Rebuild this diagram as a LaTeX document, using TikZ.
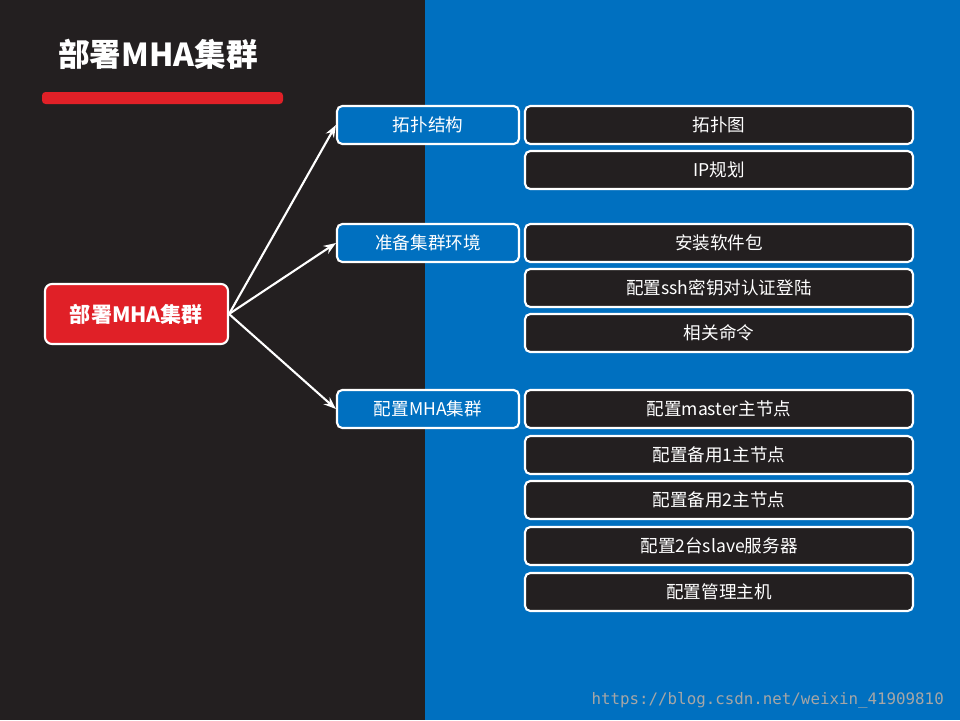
\documentclass[tikz,border=0pt]{standalone}
\usepackage{fontspec}
\setmainfont{Noto Sans CJK SC}
\newfontfamily\wmfont{DejaVu Sans Mono}
\usetikzlibrary{arrows.meta}
\definecolor{bgdark}{HTML}{231F20}
\definecolor{bgblue}{HTML}{0070C0}
\definecolor{mhared}{HTML}{E02027}

\begin{document}
\begin{tikzpicture}[x=0.02cm,y=-0.02cm]
    \tikzset{root/.style = {draw=white, very thick, fill=mhared, rounded corners=4pt, minimum width=183*0.02cm, minimum height=60*0.02cm, text=white, font=\fontsize{12}{14}\selectfont\bfseries}}
    \tikzset{topic/.style = {draw=white, very thick, fill=bgblue, rounded corners=3pt, minimum width=182*0.02cm, minimum height=38*0.02cm, text=white, font=\fontsize{10}{12}\selectfont}}
    \tikzset{leaf/.style = {draw=white, very thick, fill=bgdark, rounded corners=3pt, minimum width=388*0.02cm, minimum height=38*0.02cm, text=white, font=\fontsize{10}{12}\selectfont}}
    \tikzset{link/.style = {draw=white, very thick, -{Stealth[length=7pt]}}}

    % background
    \fill[bgdark] (0,0) rectangle (425,720);
    \fill[bgblue] (425,0) rectangle (960,720);
    \useasboundingbox (0,0) rectangle (960,720);

    % title
    \node[text=white, anchor=west, font=\fontsize{18}{20}\selectfont\bfseries] (title) at (52,54) {部署MHA集群};
    \fill[mhared, rounded corners=2pt] (42,92) rectangle (283,104);

    % root and topics
    \node[root] (mha) at (136.5,314) {部署MHA集群};
    \node[topic] (topo) at (428,125) {拓扑结构};
    \node[topic] (env) at (428,243) {准备集群环境};
    \node[topic] (conf) at (428,409) {配置MHA集群};

    % leaves
    \node[leaf] (l1) at (719,125) {拓扑图};
    \node[leaf] (l2) at (719,170) {IP规划};
    \node[leaf] (l3) at (719,243) {安装软件包};
    \node[leaf] (l4) at (719,288) {配置ssh密钥对认证登陆};
    \node[leaf] (l5) at (719,333) {相关命令};
    \node[leaf] (l6) at (719,409) {配置master主节点};
    \node[leaf] (l7) at (719,455) {配置备用1主节点};
    \node[leaf] (l8) at (719,500) {配置备用2主节点};
    \node[leaf] (l9) at (719,546) {配置2台slave服务器};
    \node[leaf] (l10) at (719,592) {配置管理主机};

    % links
    \draw[link] (mha.east) -- (topo.west);
    \draw[link] (mha.east) -- (env.west);
    \draw[link] (mha.east) -- (conf.west);

    % watermark
    \node[text=gray!70, anchor=east, font=\wmfont\fontsize{9}{10}\selectfont] (wm) at (950,700) {https://blog.csdn.net/weixin\_41909810};
\end{tikzpicture}
\end{document}
